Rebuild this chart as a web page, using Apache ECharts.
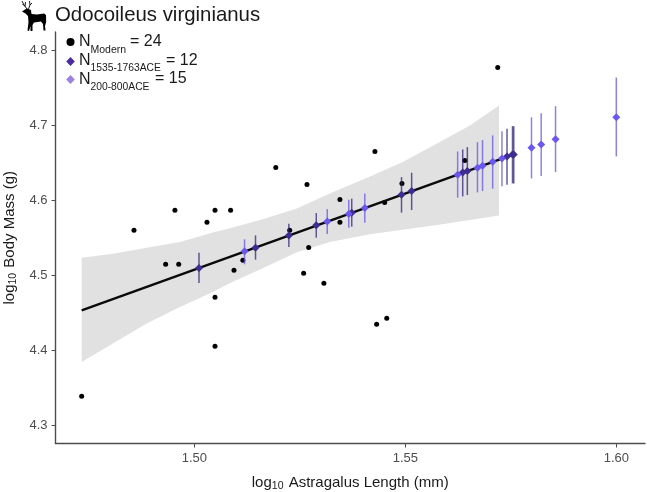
<!DOCTYPE html>
<html><head><meta charset="utf-8">
<style>html,body{margin:0;padding:0;background:#fff}#c{width:647px;height:492px}</style>
<script src="https://cdn.jsdelivr.net/npm/echarts@6/dist/echarts.min.js"></script>
</head><body><div id="c"></div>
<script>
const xTicks = [1.5, 1.55, 1.6];
const yTicks = [4.3, 4.4, 4.5, 4.6, 4.7, 4.8];
const modernX = [1.4733,1.4857,1.4932,1.4963,1.4954,1.503,1.5049,1.5086,1.5094,1.5115,1.5049,1.5049,1.5193,1.5226,1.5259,1.5267,1.5271,1.5307,1.5345,1.5345,1.5428,1.5432,1.5456,1.5451,1.5492,1.5641,1.5719];
const modernY = [4.3387,4.56,4.5147,4.5147,4.5867,4.5707,4.5867,4.5867,4.5067,4.52,4.4707,4.4053,4.644,4.56,4.5027,4.6213,4.5373,4.4893,4.6013,4.5707,4.6653,4.4347,4.4427,4.5973,4.6227,4.6533,4.7773];
const darkX = [1.5011,1.5145,1.5224,1.5289,1.5373,1.5491,1.5515,1.5636,1.5647,1.5741,1.5754,1.5757];
const darkY = [4.5097,4.5369,4.5533,4.5667,4.5836,4.6076,4.6124,4.6373,4.6391,4.6587,4.6613,4.6613];
const darkHigh = [4.5303,4.5533,4.5689,4.5831,4.6023,4.6311,4.6369,4.668,4.6711,4.6956,4.6991,4.6991];
const darkLow = [4.4897,4.5209,4.5377,4.5503,4.5649,4.5836,4.5871,4.6053,4.6071,4.6209,4.6227,4.6227];
const lightX = [1.5119,1.5315,1.5366,1.5404,1.5624,1.5671,1.5683,1.5707,1.5729,1.5799,1.5822,1.5856,1.6];
const lightY = [4.532,4.572,4.5817,4.5897,4.6343,4.6436,4.6463,4.6516,4.656,4.6703,4.6747,4.6817,4.7111];
const lightHigh = [4.548,4.5884,4.6009,4.6093,4.6653,4.6777,4.6804,4.6867,4.6924,4.7107,4.7164,4.7257,4.764];
const lightLow = [4.5147,4.5551,4.5636,4.5703,4.6036,4.6107,4.6124,4.6156,4.619,4.6293,4.6324,4.6377,4.6587];
const fitX = [1.4733, 1.5757];
const fitY = [4.4533, 4.6613];
const bandX = [1.4733,1.4807,1.4887,1.4966,1.5044,1.5084,1.5162,1.5243,1.5321,1.5416,1.5494,1.5575,1.5653,1.5722];
const bandUpper = [4.5236,4.5287,4.5367,4.5444,4.5573,4.5627,4.5747,4.5893,4.6093,4.632,4.6511,4.676,4.7,4.7267];
const bandLower = [4.3844,4.4089,4.4356,4.4577,4.4777,4.4893,4.5093,4.5307,4.5444,4.5547,4.5607,4.5673,4.574,4.58];

const zip = (...a) => a[0].map((_, i) => a.map(r => r[i]));
const errSeries = (x, lo, hi, color, width, z) => ({
  type: 'custom', z, silent: true, data: zip(x, lo, hi),
  encode: { x: 0, y: [1, 2] },
  renderItem: (p, api) => {
    const a = api.coord([api.value(0), api.value(1)]);
    const b = api.coord([api.value(0), api.value(2)]);
    return { type: 'line', shape: { x1: a[0], y1: a[1], x2: b[0], y2: b[1] },
      style: { stroke: color, lineWidth: width } };
  }
});
const chart = echarts.init(document.getElementById('c'), null, { renderer: 'canvas' });
const FF = '"Liberation Sans", Arial, sans-serif';
const txt = (x, y, text, size, color) => ({ type: 'text', x, y, style: { text, fontSize: size, fontFamily: FF, fill: color || '#1a1a1a', textVerticalAlign: 'middle' } });
const antler = pts => ({ type: 'polyline', shape: { points: pts }, style: { stroke: '#000', lineWidth: 0.9, fill: null } });
const axisCommon = {
  type: 'value', splitLine: { show: false },
  axisLine: { show: true, onZero: false, lineStyle: { color: '#4d4d4d', width: 1.4 } },
  axisTick: { show: true, length: 4, lineStyle: { color: '#4d4d4d', width: 1 } }
};
const nameRich = { n: { fontSize: 15, fontFamily: FF, color: '#1a1a1a' }, s: { fontSize: 10.5, fontFamily: FF, color: '#1a1a1a', padding: [7, 1, 0, 0] } };
chart.setOption({
  animation: false,
  backgroundColor: '#fff',
  grid: { left: 55.5, right: 2, top: 32, bottom: 48.5, containLabel: false, outerBoundsMode: 'none' },
  xAxis: Object.assign({}, axisCommon, {
    min: 1.4671, max: 1.6068,
    axisTick: Object.assign({}, axisCommon.axisTick, { customValues: xTicks }),
    axisLabel: { customValues: xTicks, formatter: v => v.toFixed(2), fontSize: 13, fontFamily: FF, color: '#4d4d4d', margin: 8 },
    name: '{n|log}{s|10}{n| Astragalus Length (mm)}', nameLocation: 'middle', nameGap: 30, nameTextStyle: { rich: nameRich, padding: [0, 0, 0, 0] }
  }),
  yAxis: Object.assign({}, axisCommon, {
    min: 4.2756, max: 4.8247,
    axisTick: Object.assign({}, axisCommon.axisTick, { customValues: yTicks }),
    axisLabel: { customValues: yTicks, formatter: v => v.toFixed(1), fontSize: 13, fontFamily: FF, color: '#4d4d4d', margin: 8 },
    name: '{n|log}{s|10}{n| Body Mass (g)}', nameLocation: 'middle', nameGap: 35, nameTextStyle: { rich: nameRich }
  }),
  series: [
    { type: 'custom', z: 1, silent: true, data: zip(bandX, bandLower, bandUpper),
      encode: { x: 0, y: [1, 2] },
      renderItem: (p, api) => {
        if (p.dataIndex !== 0) return null;
        const up = bandX.map((x, i) => api.coord([x, bandUpper[i]]));
        const lo = bandX.map((x, i) => api.coord([x, bandLower[i]])).reverse();
        return { type: 'polygon', shape: { points: up.concat(lo), smooth: 0 }, style: { fill: '#e1e1e1' } };
      } },
    { type: 'scatter', z: 2, silent: true, symbol: 'circle', symbolSize: 5, itemStyle: { color: '#000', opacity: 1 }, data: zip(modernX, modernY) },
    { type: 'line', z: 3, silent: true, symbol: 'none', lineStyle: { color: '#0a0a0a', width: 2.4 }, data: zip(fitX, fitY) },
    errSeries(darkX, darkLow, darkHigh, 'rgba(50,36,120,0.75)', 1.5, 4),
    errSeries(lightX, lightLow, lightHigh, 'rgba(100,85,230,0.75)', 1.5, 5),
    { type: 'scatter', z: 6, silent: true, symbol: 'diamond', symbolSize: 8, itemStyle: { color: '#3d2d90', opacity: 1 }, data: zip(darkX, darkY) },
    { type: 'scatter', z: 7, silent: true, symbol: 'diamond', symbolSize: 8, itemStyle: { color: '#6a58ee', opacity: 1 }, data: zip(lightX, lightY) }
  ],
  graphic: { elements: [
    txt(55, 15, 'Odocoileus virginianus', 20.4),
    { type: 'polygon', shape: { points: [[22,11.5],[25,9.5],[27,8.5],[31,10],[31.5,14],[37,14.5],[44,13.5],[46,15],[46.2,22],[45,26],[45.5,30.5],[43.5,30.5],[43,24],[41,21.5],[34,22.5],[32.5,25],[32.5,31],[30.5,31],[30.5,26],[29,31],[27.5,30.5],[28.5,22],[28,16],[25.5,13.5]] }, style: { fill: '#000' } },
    antler([[27,9],[24,5],[22,1]]), antler([[24,5],[22.5,4.5]]), antler([[25,6.5],[25.5,2]]),
    antler([[28.5,9],[30,5],[29.5,1]]), antler([[30,5],[32,3]]),
    { type: 'circle', shape: { cx: 70.5, cy: 42, r: 4 }, style: { fill: '#000' } },
    txt(79, 42, 'N', 16), txt(90.5, 50, 'Modern', 10.5), txt(130, 41.5, '= 24', 16),
    { type: 'polygon', shape: { points: [[70.5, 57], [74.8, 61.5], [70.5, 66], [66.2, 61.5]] }, style: { fill: '#4b2da0' } },
    txt(79, 61, 'N', 16), txt(90.5, 68.5, '1535-1763ACE', 10.3), txt(166, 60.5, '= 12', 16),
    { type: 'polygon', shape: { points: [[70.5, 75], [74.8, 79.5], [70.5, 84], [66.2, 79.5]] }, style: { fill: '#9a82e4' } },
    txt(79, 80, 'N', 16), txt(90.5, 87, '200-800ACE', 10.3), txt(155, 79, '= 15', 16)
  ] }
});
</script></body></html>
